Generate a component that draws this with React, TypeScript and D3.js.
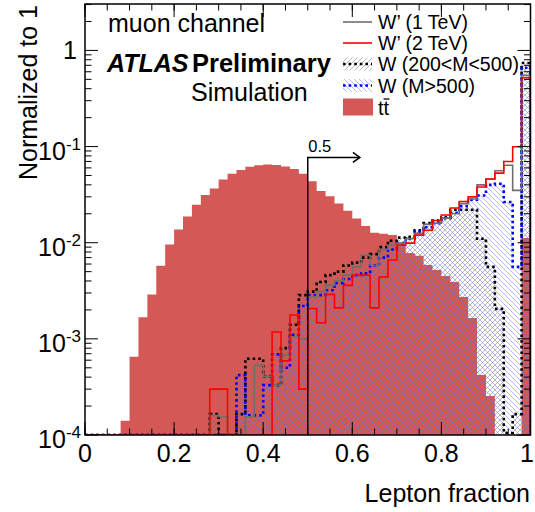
import React from 'react';
import * as d3 from 'd3';

// ---------------- data ----------------
const N_BINS = 50;
const X_MIN = 0;
const X_MAX = 1;
const Y_MIN = 1e-4;
const Y_MAX = 3.04;

const xTicks = [0, 0.2, 0.4, 0.6, 0.8, 1];
const xTickLabels = ['0', '0.2', '0.4', '0.6', '0.8', '1'];
const yDecades = [1e-4, 1e-3, 1e-2, 1e-1, 1];
const yDecadeExp = ['-4', '-3', '-2', '-1', ''];

const ttbar = [
  0, 0, 0, 0, 1.41e-4, 6.5e-4, 1.68e-3, 2.9e-3, 5.75e-3, 9.6e-3,
  1.37e-2, 1.87e-2, 2.48e-2, 3.13e-2, 3.66e-2, 4.55e-2, 5.2e-2, 5.69e-2, 6.15e-2, 6.4e-2,
  6.5e-2, 6.45e-2, 6.2e-2, 5.85e-2, 5.2e-2, 4.37e-2, 3.46e-2, 3.05e-2, 2.56e-2, 2.15e-2,
  1.79e-2, 1.49e-2, 1.27e-2, 1.24e-2, 1.2e-2, 9.9e-3, 7.8e-3, 7.3e-3, 5.85e-3, 5.2e-3,
  4.5e-3, 3.9e-3, 2.72e-3, 1.65e-3, 4.2e-4, 2.55e-4, 0, 0, 0, 1.12e-2,
];

const wp2TeV = [
  0, 0, 0, 0, 0, 0, 0, 0, 0, 0,
  0, 0, 0, 0, 3.0e-4, 3.0e-4, 0, 0, 0, 0,
  0, 1.18e-3, 5.9e-4, 1.77e-3, 3.0e-4, 2.07e-3, 1.47e-3, 2.9e-3, 2.1e-3, 3.6e-3,
  4.6e-3, 4.6e-3, 2.1e-3, 4.4e-3, 6.6e-3, 9.4e-3, 9.9e-3, 1.2e-2, 1.35e-2, 1.7e-2,
  1.94e-2, 2.3e-2, 2.68e-2, 3.0e-2, 3.8e-2, 4.6e-2, 5.3e-2, 7.0e-2, 9.95e-2, 0.52,
];

const wp1TeV = [
  0, 0, 0, 0, 0, 0, 0, 0, 0, 0,
  0, 0, 0, 0, 1.6e-4, 1.55e-4, 0, 0, 1.55e-4, 5.3e-4,
  4.1e-4, 3.3e-4, 6.8e-4, 1.05e-3, 1.0e-3, 2.75e-3, 3.1e-3, 3.6e-3, 4.0e-3, 4.6e-3,
  5.6e-3, 7.4e-3, 5.8e-3, 8.5e-3, 9.4e-3, 9.9e-3, 1.1e-2, 1.25e-2, 1.55e-2, 1.6e-2,
  1.8e-2, 2.0e-2, 2.55e-2, 2.85e-2, 4.0e-2, 4.6e-2, 5.6e-2, 6.4e-2, 3.5e-2, 0.55,
];

const wLowMass = [
  0, 0, 0, 0, 0, 0, 0, 0, 0, 0,
  0, 0, 0, 0, 1.65e-4, 0, 0, 1.65e-4, 6.2e-4, 6.2e-4,
  4.1e-4, 3.3e-4, 8.0e-4, 1.4e-3, 2.85e-3, 3.1e-3, 3.9e-3, 4.6e-3, 5.0e-3, 5.8e-3,
  6.2e-3, 7.0e-3, 7.6e-3, 9.0e-3, 1.05e-2, 1.13e-2, 1.15e-2, 1.35e-2, 1.6e-2, 1.7e-2,
  1.85e-2, 2.2e-2, 2.2e-2, 2.2e-2, 1.1e-2, 5.6e-3, 2.05e-3, 1.05e-4, 1.65e-4, 0.74,
];

const wHighMass = [
  0, 0, 0, 0, 0, 0, 0, 0, 0, 0,
  0, 0, 0, 0, 0, 0, 0, 4.2e-4, 1.6e-4, 1.6e-4,
  3.3e-4, 6.9e-4, 5.0e-4, 1.1e-3, 2.2e-3, 2.85e-3, 2.85e-3, 3.2e-3, 3.8e-3, 4.2e-3,
  4.6e-3, 4.8e-3, 5.8e-3, 7.0e-3, 8.5e-3, 9.9e-3, 1.1e-2, 1.3e-2, 1.45e-2, 1.6e-2,
  1.8e-2, 2.05e-2, 2.4e-2, 2.8e-2, 3.1e-2, 4.0e-2, 4.1e-2, 2.65e-2, 5.6e-3, 0.66,
];

const legendLabels = ['W\u2019 (1 TeV)', 'W\u2019 (2 TeV)', 'W (200<M<500)', 'W (M>500)'];

const CUT_X = 0.5;
const ARROW_Y = 0.077;
const ARROW_END_X = 0.617;

// ---------------- layout ----------------
const W = 535;
const H = 512;
const PL = 85;
const PR = 530.5;
const PT = 4;
const PB = 435;
const FONT = 'Liberation Sans, Arial, Helvetica, sans-serif';
const TT_COLOR = '#d35856';

export default function App() {
  const x = d3.scaleLinear().domain([X_MIN, X_MAX]).range([PL, PR]);
  const y = d3.scaleLog().domain([Y_MIN, Y_MAX]).range([PB, PT]);
  const yv = (v: number) => (v <= Y_MIN ? PB : Math.max(PT, y(v)));
  const edges = d3.range(N_BINS + 1).map((i) => X_MIN + ((X_MAX - X_MIN) * i) / N_BINS);

  const pts = (vals: number[]) => {
    const p: [number, number][] = vals.map((v, i) => [edges[i], v]);
    p.push([edges[N_BINS], vals[N_BINS - 1]]);
    return p;
  };
  const area = d3
    .area<[number, number]>()
    .curve(d3.curveStepAfter)
    .x((d) => x(d[0]))
    .y0(PB)
    .y1((d) => yv(d[1]));
  const line = d3
    .line<[number, number]>()
    .curve(d3.curveStepAfter)
    .x((d) => x(d[0]))
    .y((d) => yv(d[1]));
  const outline = (vals: number[]) =>
    line([[X_MIN, Y_MIN], ...pts(vals), [X_MAX, Y_MIN]]) as string;

  // ticks
  const xMinor = d3.range(0, 21).map((i) => i * 0.05);
  const yMinor: number[] = [];
  for (let e = -4; e <= 0; e++) {
    for (let m = 2; m <= 9; m++) {
      const v = m * Math.pow(10, e);
      if (v < Y_MAX) yMinor.push(v);
    }
  }
  const MAJ = 13;
  const MIN = 6.5;

  const legX0 = 343;
  const legX1 = 372;
  const legTextX = 378;
  const legRows = [22, 43, 64, 85.5, 107];

  return (
    <svg width={W} height={H} style={{ position: 'absolute', left: 0, top: 0 }} fontFamily={FONT}>
      <defs>
        <clipPath id="plotClip">
          <rect x={PL} y={PT} width={PR - PL} height={PB - PT} />
        </clipPath>
        <pattern id="hatchFwd" patternUnits="userSpaceOnUse" width="5" height="5">
          <path d="M-1,1 L1,-1 M0,5 L5,0 M4,6 L6,4" stroke="#707070" strokeWidth="0.5" />
        </pattern>
        <pattern id="hatchBack" patternUnits="userSpaceOnUse" width="5" height="5">
          <path d="M-1,4 L1,6 M0,0 L5,5 M4,-1 L6,1" stroke="#6474f0" strokeWidth="0.5" />
        </pattern>
      </defs>
      <rect x={0} y={0} width={W} height={H} fill="#fff" />

      <g clipPath="url(#plotClip)">
        <path d={area(pts(ttbar)) as string} fill={TT_COLOR} stroke="none" />
        <path d={area(pts(wLowMass)) as string} fill="url(#hatchFwd)" />
        <path d={area(pts(wHighMass)) as string} fill="url(#hatchBack)" />
        <path d={outline(wLowMass)} fill="none" stroke="#000" strokeWidth={2.6} strokeDasharray="2.6,3" />
        <path d={outline(wHighMass)} fill="none" stroke="#0000ff" strokeWidth={2.6} strokeDasharray="2.6,3" />
        <path d={outline(wp1TeV)} fill="none" stroke="#6e6e6e" strokeWidth={1.6} />
        <path d={outline(wp2TeV)} fill="none" stroke="#ff0000" strokeWidth={1.6} />
        {/* cut line and arrow */}
        <path
          d={`M${x(CUT_X)},${PB} L${x(CUT_X)},${y(ARROW_Y)} L${x(ARROW_END_X)},${y(ARROW_Y)}`}
          fill="none"
          stroke="#000"
          strokeWidth={1.5}
        />
        <path
          d={`M${x(ARROW_END_X) - 7},${y(ARROW_Y) - 5} L${x(ARROW_END_X)},${y(ARROW_Y)} L${x(ARROW_END_X) - 7},${y(ARROW_Y) + 5}`}
          fill="none"
          stroke="#000"
          strokeWidth={1.5}
        />
      </g>
      <text x={x(CUT_X) + 0.5} y={y(ARROW_Y) - 5.5} fontSize={16.5}>0.5</text>

      {/* frame */}
      <rect x={PL} y={PT} width={PR - PL} height={PB - PT} fill="none" stroke="#000" strokeWidth={1.5} />

      {/* x ticks */}
      {xMinor.map((t, i) => (
        <g key={'xm' + i}>
          <line x1={x(t)} x2={x(t)} y1={PB} y2={PB - MIN} stroke="#000" strokeWidth={1} />
          <line x1={x(t)} x2={x(t)} y1={PT} y2={PT + MIN} stroke="#000" strokeWidth={1} />
        </g>
      ))}
      {xTicks.map((t, i) => (
        <g key={'xM' + i}>
          <line x1={x(t)} x2={x(t)} y1={PB} y2={PB - MAJ} stroke="#000" strokeWidth={1} />
          <line x1={x(t)} x2={x(t)} y1={PT} y2={PT + MAJ} stroke="#000" strokeWidth={1} />
          <text
            x={i === xTicks.length - 1 ? W - 1 : x(t)}
            y={462}
            fontSize={25}
            textAnchor={i === xTicks.length - 1 ? 'end' : 'middle'}
          >
            {xTickLabels[i]}
          </text>
        </g>
      ))}

      {/* y ticks */}
      {yMinor.map((t, i) => (
        <g key={'ym' + i}>
          <line x1={PL} x2={PL + MIN} y1={y(t)} y2={y(t)} stroke="#000" strokeWidth={1} />
          <line x1={PR} x2={PR - MIN} y1={y(t)} y2={y(t)} stroke="#000" strokeWidth={1} />
        </g>
      ))}
      {yDecades.map((t, i) => (
        <g key={'yM' + i}>
          <line x1={PL} x2={PL + MAJ} y1={y(t)} y2={y(t)} stroke="#000" strokeWidth={1} />
          <line x1={PR} x2={PR - MAJ} y1={y(t)} y2={y(t)} stroke="#000" strokeWidth={1} />
          {yDecadeExp[i] === '' ? (
            <text x={77} y={y(t) + 9} fontSize={25} textAnchor="end">1</text>
          ) : (
            <text x={81} y={y(t) + 13} fontSize={25} textAnchor="end">
              10<tspan fontSize={17} dy={-10}>{yDecadeExp[i]}</tspan>
            </text>
          )}
        </g>
      ))}

      {/* axis titles */}
      <text x={530} y={502} fontSize={25} textAnchor="end">Lepton fraction</text>
      <text transform="translate(37,5) rotate(-90)" fontSize={25} textAnchor="end">Normalized to 1</text>

      {/* labels */}
      <text x={108} y={32} fontSize={25}>muon channel</text>
      <text x={107} y={72} fontSize={25} fontWeight="bold" fontStyle="italic">ATLAS</text>
      <text x={192} y={72} fontSize={25.5} fontWeight="bold">Preliminary</text>
      <text x={191} y={101} fontSize={25}>Simulation</text>

      {/* legend */}
      <line x1={legX0} x2={legX1} y1={legRows[0]} y2={legRows[0]} stroke="#6e6e6e" strokeWidth={1.6} />
      <line x1={legX0} x2={legX1} y1={legRows[1]} y2={legRows[1]} stroke="#ff0000" strokeWidth={1.6} />
      <rect x={legX0} y={legRows[2] - 6.5} width={legX1 - legX0} height={13} fill="url(#hatchFwd)" />
      <line x1={legX0} x2={legX1} y1={legRows[2]} y2={legRows[2]} stroke="#000" strokeWidth={2.6} strokeDasharray="2.6,3" />
      <rect x={legX0} y={legRows[3] - 6.5} width={legX1 - legX0} height={13} fill="url(#hatchBack)" />
      <line x1={legX0} x2={legX1} y1={legRows[3]} y2={legRows[3]} stroke="#0000ff" strokeWidth={2.6} strokeDasharray="2.6,3" />
      <rect x={legX0} y={legRows[4] - 8.5} width={legX1 - legX0 + 1} height={17} fill={TT_COLOR} />
      {legendLabels.map((l, i) => (
        <text key={l} x={legTextX} y={legRows[i] + 7} fontSize={19.5}>{l}</text>
      ))}
      <text x={legTextX} y={legRows[4] + 7.5} fontSize={20}>tt</text>
      <line
        x1={legTextX + 5.6}
        x2={legTextX + 11.4}
        y1={legRows[4] - 8}
        y2={legRows[4] - 8}
        stroke="#000"
        strokeWidth={1.3}
      />
    </svg>
  );
}
